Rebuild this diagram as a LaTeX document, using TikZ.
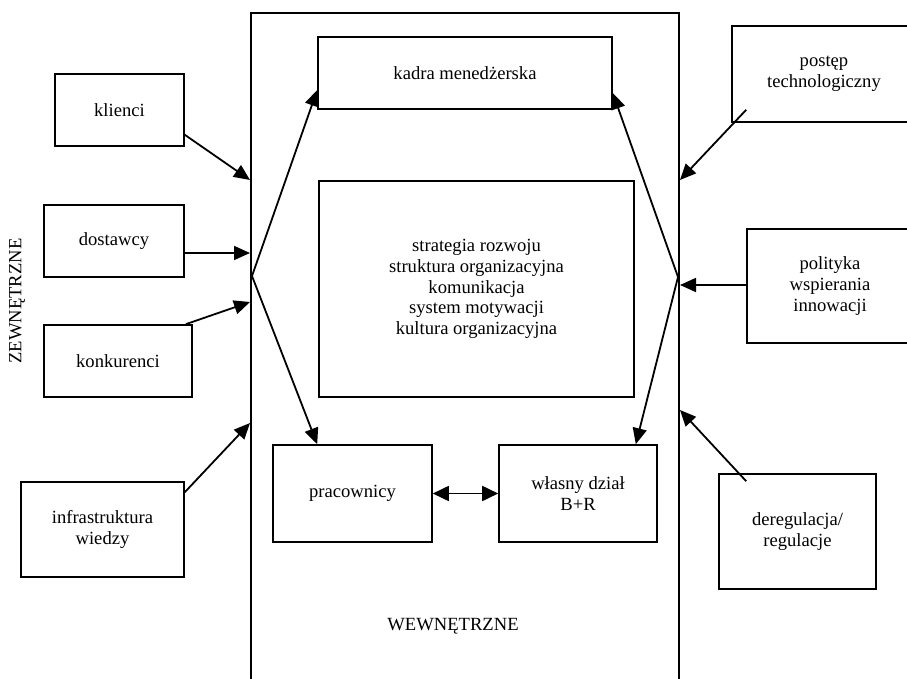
\documentclass[tikz,border=0pt]{standalone}
\usepackage{fontspec}
\setmainfont{Liberation Serif}
\usetikzlibrary{arrows.meta}
\begin{document}
\begin{tikzpicture}[x=1pt,y=-1pt,
  box/.style={draw,line width=1.6pt,rectangle,inner sep=0pt,align=center,
    font=\fontsize{18.6}{20.8}\selectfont},
  lbl/.style={inner sep=0pt,font=\fontsize{18.6}{20.8}\selectfont},
  arr/.style={line width=1.8pt,-{Triangle[length=16pt,width=14pt]}},
  dbl/.style={line width=1.8pt,{Triangle[length=16pt,width=15pt]}-{Triangle[length=16pt,width=15pt]}},
  ln/.style={line width=1.8pt}]
\useasboundingbox (0,0) rectangle (907,679);
% container
\draw[line width=1.6pt] (251,700) -- (251,13) -- (679,13) -- (679,700);
% left side boxes
\node[box,minimum width=129pt,minimum height=72pt] (klienci) at (119.5,110) {klienci};
\node[box,minimum width=140pt,minimum height=72pt] (dostawcy) at (114,241) {dostawcy};
\node[box,minimum width=148pt,minimum height=72pt] (konk) at (118,361) {konkurenci};
\node[box,minimum width=163pt,minimum height=95pt] (infra) at (102.5,529.5) {infrastruktura\\wiedzy};
% inner boxes
\node[box,minimum width=294pt,minimum height=72pt] (kadra) at (465,73) {kadra menedżerska};
\node[box,minimum width=315pt,minimum height=216pt] (central) at (476.5,289) {strategia rozwoju\\struktura organizacyjna\\komunikacja\\system motywacji\\kultura organizacyjna};
\node[box,minimum width=159pt,minimum height=97pt] (prac) at (352.5,493.5) {pracownicy};
\node[box,minimum width=158pt,minimum height=97pt] (br) at (578,493.5) {własny dział\\B+R};
% right side boxes
\node[box,minimum width=184pt,minimum height=96pt] (postep) at (824,74) {postęp\\technologiczny};
\node[box,minimum width=166pt,minimum height=114pt] (polityka) at (830,286) {polityka\\wspierania\\innowacji};
\node[box,minimum width=157pt,minimum height=115pt] (dereg) at (797.5,531.5) {deregulacja/\\regulacje};
% labels
\node[lbl,rotate=90] (zew) at (17,301) {ZEWNĘTRZNE};
\node[lbl] (wew) at (453,626) {WEWNĘTRZNE};
% wall coordinates
\coordinate (lw1) at (250,180);
\coordinate (lw2) at (250,253);
\coordinate (lw3) at (250,302);
\coordinate (lw4) at (250,423);
\coordinate (lx) at (252,276);
\coordinate (rx) at (678,277);
\coordinate (rw1) at (680,180);
\coordinate (rw2) at (680,285);
\coordinate (rw3) at (680,410);
% external arrows
\draw[arr] ([yshift=12pt]klienci.south east) -- (lw1);
\draw[arr] ([yshift=-12pt]dostawcy.east) -- (lw2);
\draw[arr] ([xshift=-7pt]konk.north east) -- (lw3);
\draw[arr] ([yshift=-11pt]infra.north east) -- (lw4);
\draw[arr] ([xshift=15pt,yshift=13pt]postep.south west) -- (rw1);
\draw[arr] ([yshift=1pt]polityka.west) -- (rw2);
\draw[arr] ([xshift=28pt,yshift=-8pt]dereg.north west) -- (rw3);
% internal arrows
\draw[arr] (lx) -- ([yshift=-17pt]kadra.west);
\draw[arr] (lx) -- ([xshift=45pt]prac.north west);
\draw[arr] (rx) -- ([yshift=-20pt]kadra.east);
\draw[arr] (rx) -- ([xshift=-22pt]br.north east);
\draw[dbl] (prac.east) -- (br.west);
\end{tikzpicture}
\end{document}
